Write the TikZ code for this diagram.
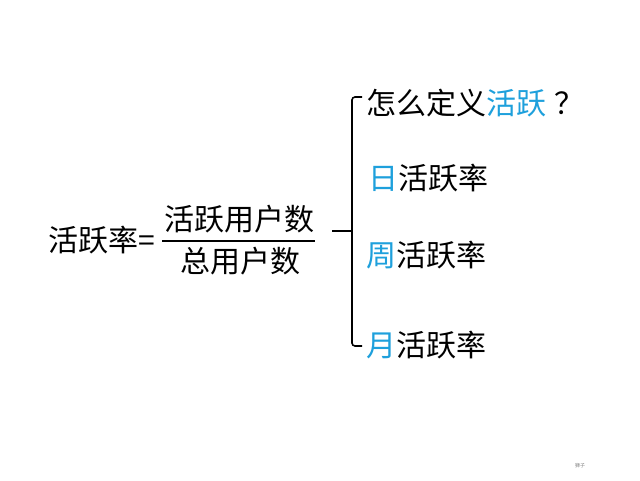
\documentclass[tikz,border=0pt]{standalone}
\usepackage{fontspec}
\setmainfont{Noto Sans CJK SC}
\definecolor{hl}{RGB}{30,160,220}
\begin{document}
\begin{tikzpicture}[x=1pt,y=-1pt,
  txt/.style={inner sep=0pt,font=\fontsize{30}{34}\selectfont,text=black},
  brace/.style={line width=1.6pt,black,rounded corners=3pt}]
\useasboundingbox[fill=white] (0,0) rectangle (640,480);
\node[txt,anchor=west] (rate) at (48,240) {活跃率=};
\node[txt] (num) at (239,219) {活跃用户数};
\node[txt] (den) at (240,261) {总用户数};
\draw[line width=1.2pt] (162,241) -- (315,241);
\coordinate (mid) at (332,231);
\coordinate (top) at (362,97);
\coordinate (bot) at (362,346);
\draw[brace] (top) -- (352,97) -- (352,346) -- (bot);
\draw[brace] (mid) -- (352,231);
\node[txt,anchor=west] (q) at (366,103) {怎么定义\textcolor{hl}{活跃}\hspace{8pt}？};
\node[txt,anchor=west] (d) at (368,178) {\textcolor{hl}{日}活跃率};
\node[txt,anchor=west] (w) at (366,255) {\textcolor{hl}{周}活跃率};
\node[txt,anchor=west] (m) at (366,345) {\textcolor{hl}{月}活跃率};
\node[inner sep=0pt,font=\fontsize{5}{6}\selectfont,text=gray] (wm) at (580,466) {狮子};
\end{tikzpicture}
\end{document}
